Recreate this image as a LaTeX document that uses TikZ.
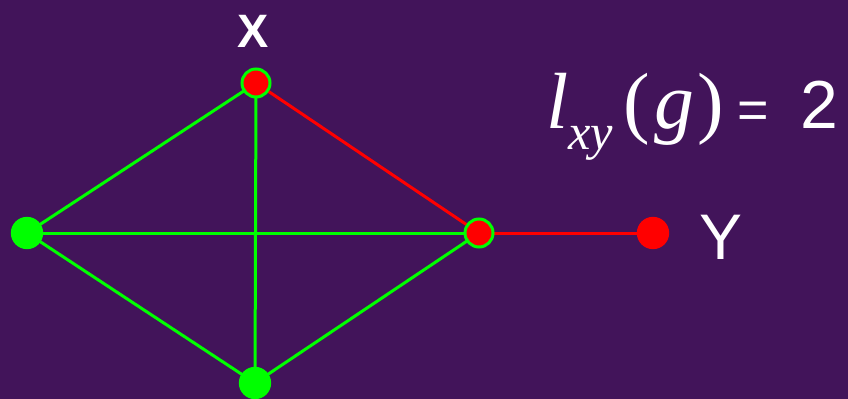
\documentclass[tikz,border=0pt]{standalone}
\usepackage{fontspec}
\setmainfont{Liberation Sans}
\newfontfamily\timesfont{Liberation Serif}
\usetikzlibrary{positioning,backgrounds}
\definecolor{bgpurple}{RGB}{66,20,90}
\definecolor{lgreen}{RGB}{0,255,0}
\definecolor{lred}{RGB}{255,0,0}

\begin{document}
\begin{tikzpicture}[
  x=0.03cm,y=-0.03cm,
  vert/.style={circle,inner sep=0pt,minimum size=0.97cm},
  gvert/.style={vert,fill=lgreen},
  rvert/.style={vert,fill=lred,draw=lgreen,line width=0.09cm,minimum size=0.84cm},
  yvert/.style={vert,fill=lred},
  gedge/.style={draw=lgreen,line width=0.09cm},
  redge/.style={draw=lred,line width=0.09cm},
  lab/.style={text=white,inner sep=0pt},
]
\useasboundingbox (0,0) rectangle (848,399);

% ---- vertices -----------------------------------------------------------
\node[rvert] (X) at (256,83) {};
\node[gvert] (L) at (27,233) {};
\node[rvert] (R) at (479,233) {};
\node[gvert] (B) at (255,383) {};
\node[yvert] (Y) at (653,233) {};

% ---- edges (behind the vertices) ----------------------------------------
\begin{scope}[on background layer]
\fill[bgpurple] (0,0) rectangle (848,399);
\path[gedge] (X.center) -- (L.center);
\path[gedge] (X.center) -- (B.center);
\path[gedge] (L.center) -- (R.center);
\path[gedge] (L.center) -- (B.center);
\path[gedge] (B.center) -- (R.center);
\path[redge] (X.center) -- (R.center);
\path[redge] (R.center) -- (Y.center);
\end{scope}

% ---- labels -------------------------------------------------------------
\node[lab,font=\fontsize{40}{40}\selectfont\bfseries] (Xlab) at (253,31) {X};
\node[lab,font=\fontsize{55}{55}\selectfont] (Ylab) at (721,237) {Y};
\node[lab,anchor=base west] (dist) at (546,129)
  {\fontsize{68}{68}\selectfont\timesfont\itshape l\raisebox{-0.62cm}{\fontsize{43}{43}\selectfont xy}%
   \hspace{0.3cm}\upshape(\hspace{0.15cm}\itshape g\hspace{0.1cm}\upshape)%
   \hspace{0.4cm}\rmfamily\fontsize{46}{46}\selectfont =\hspace{0.95cm}\fontsize{58}{58}\selectfont 2};
\end{tikzpicture}
\end{document}
